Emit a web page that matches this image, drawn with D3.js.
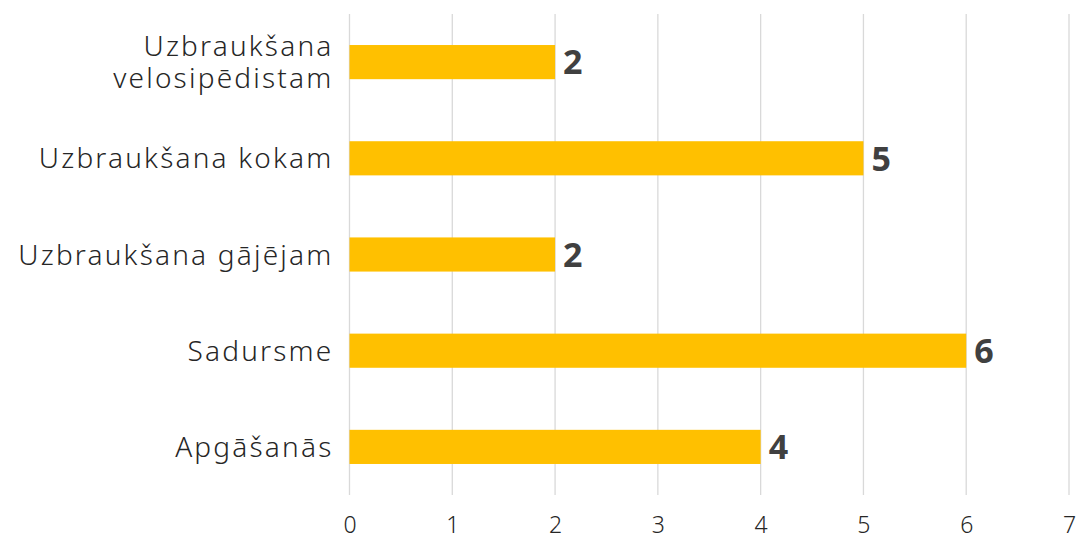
<!DOCTYPE html>
<html>
<head>
<meta charset="utf-8">
<script src="https://cdn.jsdelivr.net/npm/d3@7"></script>
<style>
  body { margin: 0; background: #fff; }
  svg { display: block; }
</style>
</head>
<body>
<svg width="1079" height="540"></svg>
<script>
var categories = [["Uzbraukšana", "velosipēdistam"], ["Uzbraukšana kokam"], ["Uzbraukšana gājējam"], ["Sadursme"], ["Apgāšanās"]];
var values = [2, 5, 2, 6, 4];
var xTicks = [0, 1, 2, 3, 4, 5, 6, 7];

var svg = d3.select("svg"),
    margin = {top: 14, right: 10, bottom: 46, left: 349.5},
    width = +svg.attr("width") - margin.left - margin.right,
    height = +svg.attr("height") - margin.top - margin.bottom,
    g = svg.append("g").attr("transform", "translate(" + margin.left + "," + margin.top + ")");

var data = categories.map(function(c, i) { return {name: c, value: values[i]}; });

var x = d3.scaleLinear().domain([0, 7]).range([0, 719.5]);
var y = d3.scaleBand().domain(d3.range(data.length)).range([0, 481]).paddingInner(0.645).paddingOuter(0.3225);

// 格線
g.append("g")
  .selectAll("line")
  .data(xTicks)
  .enter().append("line")
  .attr("x1", function(d) { return x(d); })
  .attr("x2", function(d) { return x(d); })
  .attr("y1", 0)
  .attr("y2", 481)
  .attr("stroke", "#d9d9d9")
  .attr("stroke-width", 1.3);

// X軸文字
var xAxis = g.append("g")
  .attr("transform", "translate(0,481)")
  .call(d3.axisBottom(x).tickValues(xTicks).tickSize(0).tickPadding(22).tickFormat(d3.format("d")));
xAxis.select(".domain").remove();
xAxis.selectAll("text")
  .attr("font-family", "'Noto Sans', sans-serif")
  .attr("font-weight", 300)
  .attr("font-size", "23px")
  .attr("fill", "#262626");

// 長條
g.selectAll("rect.bar")
  .data(data)
  .enter().append("rect")
  .attr("class", "bar")
  .attr("x", x(0))
  .attr("y", function(d, i) { return y(i); })
  .attr("width", function(d) { return x(d.value) - x(0); })
  .attr("height", y.bandwidth())
  .attr("fill", "#FFC000");

// 數值
g.selectAll("text.val")
  .data(data)
  .enter().append("text")
  .attr("class", "val")
  .attr("x", function(d) { return x(d.value) + 8; })
  .attr("y", function(d, i) { return y(i) + y.bandwidth() / 2; })
  .attr("dy", "0.36em")
  .attr("font-family", "'Noto Sans', sans-serif")
  .attr("font-weight", "bold")
  .attr("font-size", "34px")
  .attr("fill", "#404040")
  .text(function(d) { return d.value; });

// 類別 (每行一個 text)
data.forEach(function(d, i) {
  var n = d.name.length;
  d.name.forEach(function(line, k) {
    g.append("text")
      .attr("class", "cat")
      .attr("x", -16)
      .attr("y", y(i) + y.bandwidth() / 2 + (k - (n - 1) / 2) * 32)
      .attr("dy", "0.36em")
      .attr("text-anchor", "end")
      .attr("font-family", "'Noto Sans', sans-serif")
      .attr("font-weight", 300)
      .attr("font-size", "28px")
      .attr("letter-spacing", "2.2px")
      .attr("fill", "#262626")
      .text(line);
  });
});
</script>
</body>
</html>
